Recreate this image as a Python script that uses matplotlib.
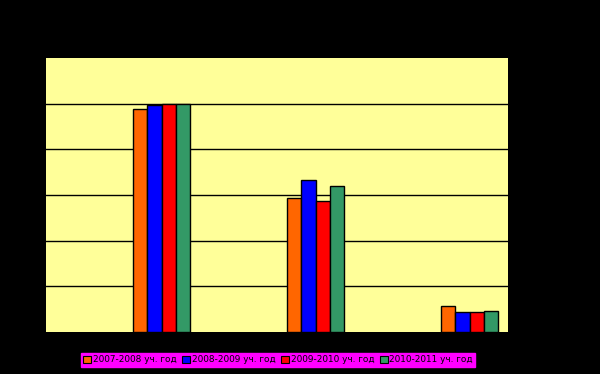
import matplotlib
matplotlib.use("Agg")
import matplotlib.pyplot as plt
import numpy as np

categories = ["1", "2", "3"]
series_names = ["2007-2008 уч. год", "2008-2009 уч. год", "2009-2010 уч. год", "2010-2011 уч. год"]
s2007 = [4.88, 2.94, 0.56]
s2008 = [4.97, 3.33, 0.43]
s2009 = [5.00, 2.87, 0.43]
s2010 = [5.00, 3.20, 0.47]
series = [s2007, s2008, s2009, s2010]
colors = ["#FF6600", "#0000FF", "#FF0000", "#339966"]

fig = plt.figure(figsize=(6, 3.74), dpi=100, facecolor="black")
ax = fig.add_axes([46/600, 42/374, 462/600, 274/374])
ax.set_facecolor("#FFFF99")

x = np.arange(len(categories))
w = 0.091
for i, (vals, c, name) in enumerate(zip(series, colors, series_names)):
    ax.bar(x + (i - 1.5) * w, vals, width=w, color=c, edgecolor="black",
           linewidth=1, label=name, zorder=3)

ax.set_xlim(-0.75, 2.25)
ax.set_ylim(0, 6)
ax.set_yticks([1, 2, 3, 4, 5])
ax.yaxis.grid(True, color="black", linewidth=1, zorder=1)
ax.tick_params(left=False, bottom=False, labelleft=False, labelbottom=False)
for s in ax.spines.values():
    s.set_visible(False)

leg = fig.legend(loc="center", bbox_to_anchor=(278/600, 1 - 360/374), ncol=4,
                 fontsize=6.4, frameon=True, fancybox=False, facecolor="#FF00FF",
                 edgecolor="#FF00FF", framealpha=1, handlelength=0.9, handleheight=0.9,
                 handletextpad=0.2, columnspacing=0.6, borderpad=0.25,
                 borderaxespad=0)
for h in leg.legend_handles:
    h.set_linewidth(0.8)

fig.savefig("out.png", dpi=100, facecolor="black")
